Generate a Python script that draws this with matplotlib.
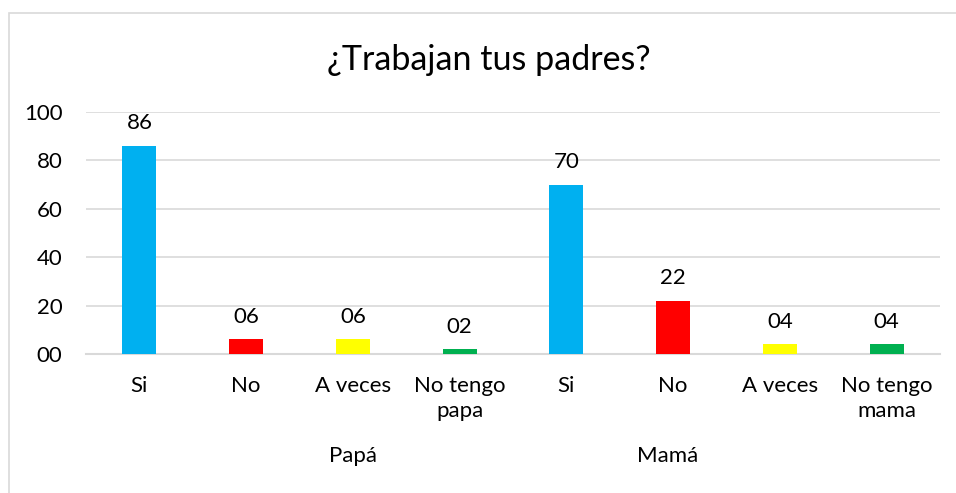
import numpy as np
import matplotlib.pyplot as plt
from matplotlib.patches import Rectangle

plt.rcParams['font.family'] = ['Lato', 'DejaVu Sans']

# data
categories = ["Si", "No", "A veces", "No tengo\npapa", "Si", "No", "A veces", "No tengo\nmama"]
values = [86, 6, 6, 2, 70, 22, 4, 4]
groups = ["Papá", "Mamá"]
colors = ["#00B0F0", "#FF0000", "#FFFF00", "#00B050"] * 2

fig = plt.figure(figsize=(9.56, 4.93), dpi=100)
ax = fig.add_axes([86 / 956, 1 - 354 / 493, (940 - 86) / 956, (354 - 112) / 493])

x = np.arange(len(values))
ax.bar(x, values, width=0.32, color=colors, zorder=3)

# data labels, shown with two digits like the original
for xi, v in zip(x, values):
    ax.annotate(f"{v:02d}", (xi, v), xytext=(0, 9), textcoords="offset points",
                ha="center", va="bottom", fontsize=16)

ax.set_xlim(-0.5, len(values) - 0.5)
ax.set_ylim(0, 100)
ax.set_yticks(np.arange(0, 101, 20))
ax.set_yticklabels([f"{t:02d}" for t in range(0, 101, 20)], fontsize=16)
ax.set_xticks(x)
ax.set_xticklabels(categories, fontsize=16, linespacing=1.3)
ax.tick_params(length=0, pad=16)
ax.tick_params(axis="y", pad=17)

ax.grid(axis="y", color="#D9D9D9", linewidth=1.2, zorder=0)
for s in ["top", "right", "left"]:
    ax.spines[s].set_visible(False)
ax.spines["bottom"].set_color("#D9D9D9")
ax.spines["bottom"].set_linewidth(1.5)

# group labels under the categories
ax.text(2.0, -0.42, groups[0], transform=ax.get_xaxis_transform(), ha="center", va="center", fontsize=16)
ax.text(4.95, -0.42, groups[1], transform=ax.get_xaxis_transform(), ha="center", va="center", fontsize=16)

fig.text(489 / 956, 1 - 60 / 493, "¿Trabajan tus padres?", ha="center", va="center", fontsize=24.5)

# chart frame
fig.patches.append(Rectangle((9 / 956, -0.05), 1.0, 1 - 13 / 493 + 0.05, transform=fig.transFigure,
                             fill=False, edgecolor="#D9D9D9", linewidth=1.2))

fig.savefig("out.png", dpi=100)
